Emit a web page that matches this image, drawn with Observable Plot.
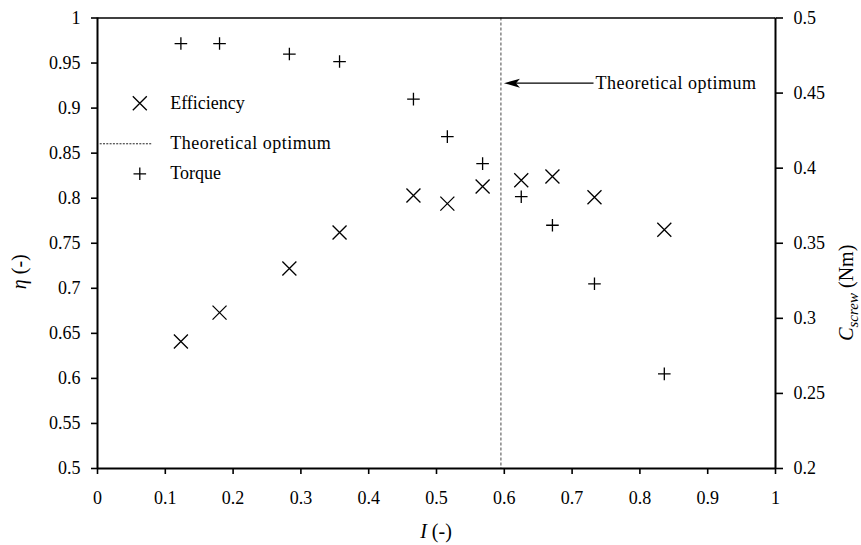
<!DOCTYPE html>
<html>
<head>
<meta charset="utf-8">
<script src="https://cdn.jsdelivr.net/npm/d3@7"></script>
<script src="https://cdn.jsdelivr.net/npm/@observablehq/plot@0.6"></script>
<style>
  html, body { margin: 0; padding: 0; background: #fff; }
  #chart svg { display: block; }
  #chart svg, #chart svg text, #chart svg tspan {
    font-family: "Liberation Serif", "DejaVu Serif", "Times New Roman", Times, serif !important;
  }
  #chart svg .wide text { letter-spacing: 0.5px; }
</style>
</head>
<body>
<div id="chart"></div>
<script>
// ---- data ----
const helixIndex = [0.123, 0.180, 0.283, 0.357, 0.466, 0.516, 0.568, 0.625, 0.671, 0.733, 0.836];
const efficiency = [0.641, 0.673, 0.722, 0.762, 0.803, 0.794, 0.813, 0.820, 0.824, 0.801, 0.765];
const torque     = [0.483, 0.483, 0.476, 0.471, 0.446, 0.421, 0.403, 0.381, 0.362, 0.323, 0.263];
const optimum = 0.595;

const xTicks      = [0, 0.1, 0.2, 0.3, 0.4, 0.5, 0.6, 0.7, 0.8, 0.9, 1];
const etaTicks    = [0.5, 0.55, 0.6, 0.65, 0.7, 0.75, 0.8, 0.85, 0.9, 0.95, 1];
const torqueTicks = [0.2, 0.25, 0.3, 0.35, 0.4, 0.45, 0.5];
const legendLabels = ["Efficiency", "Theoretical optimum", "Torque"];
const annotationText = "Theoretical optimum";

// ---- scales mapping ----
const etaDomain = [0.5, 1];
const torqueDomain = [0.2, 0.5];
const k = (etaDomain[1] - etaDomain[0]) / (torqueDomain[1] - torqueDomain[0]);
const toEta = t => etaDomain[0] + (t - torqueDomain[0]) * k;
const fromEta = e => torqueDomain[0] + (e - etaDomain[0]) / k;
const fmt = d3.format("~g");
const fmt2 = d => fmt(+d.toFixed(4));

const effData = helixIndex.map((I, i) => ({I, v: efficiency[i]}));
const torqueData = helixIndex.map((I, i) => ({I, v: toEta(torque[i])}));

// custom marker shapes
const timesSym = {draw(ctx) { const r = 7; ctx.moveTo(-r, -r); ctx.lineTo(r, r); ctx.moveTo(-r, r); ctx.lineTo(r, -r); }};
const plusSym  = {draw(ctx) { const r = 6.3; ctx.moveTo(-r, 0); ctx.lineTo(r, 0); ctx.moveTo(0, -r); ctx.lineTo(0, r); }};
const headSym  = {draw(ctx) { ctx.moveTo(0, 0); ctx.lineTo(16, -4.5); ctx.lineTo(12, 0); ctx.lineTo(16, 4.5); ctx.closePath(); }};

// annotation placement (data coordinates)
const arrowStart = 0.7316, arrowTip = 0.5995, arrowY = 0.9277, labelX = 0.7345;

const font = "Liberation Serif, DejaVu Serif, serif";

const plot = Plot.plot({
  width: 861,
  height: 545,
  marginLeft: 97,
  marginRight: 86,
  marginTop: 17.5,
  marginBottom: 77,
  style: {fontFamily: font, fontSize: "18px", color: "black", background: "white"},
  x: {domain: [0, 1]},
  y: {domain: etaDomain},
  marks: [
    // optimum line
    Plot.ruleX([optimum], {stroke: "#666", strokeWidth: 1.2, strokeDasharray: "3,2"}),
    // frame
    Plot.ruleY([etaDomain[1]], {stroke: "black", strokeWidth: 1.4}),
    Plot.ruleY([etaDomain[0]], {stroke: "black", strokeWidth: 2}),
    Plot.ruleX([0], {stroke: "black", strokeWidth: 2}),
    Plot.ruleX([1], {stroke: "black", strokeWidth: 2}),
    // axes
    Plot.axisX(xTicks, {tickSize: 6, tickPadding: 17, strokeWidth: 1.6, tickFormat: fmt2, label: null, fontSize: 18}),
    Plot.axisY(etaTicks, {anchor: "left", tickSize: 6, tickPadding: 11, strokeWidth: 1.6, tickFormat: fmt2, label: null, fontSize: 18}),
    Plot.axisY(torqueTicks.map(toEta), {anchor: "right", tickSize: 7, tickPadding: 11, strokeWidth: 1.6, tickFormat: d => fmt2(fromEta(d)), label: null, fontSize: 18}),
    // data
    Plot.dot(effData, {x: "I", y: "v", symbol: timesSym, r: 5, fill: "none", stroke: "black", strokeWidth: 1.3}),
    Plot.dot(torqueData, {x: "I", y: "v", symbol: plusSym, r: 5, fill: "none", stroke: "black", strokeWidth: 1.3}),
    // annotation
    Plot.link([{x1: arrowStart, x2: arrowTip + 0.012, y: arrowY}], {x1: "x1", x2: "x2", y1: "y", y2: "y", stroke: "black", strokeWidth: 1.2}),
    Plot.dot([{x: arrowTip, y: arrowY}], {x: "x", y: "y", symbol: headSym, r: 5, fill: "black", stroke: "none"}),
    Plot.text([annotationText], {x: labelX, y: arrowY, text: d => d, textAnchor: "start", lineAnchor: "middle", fontSize: 18, fill: "black", className: "wide"}),
    // legend
    Plot.dot([0], {frameAnchor: "top-left", dx: 42.3, dy: 85.2, symbol: timesSym, r: 5, fill: "none", stroke: "black", strokeWidth: 1.3}),
    Plot.ruleY([0.8604], {x1: 0.004, x2: 0.081, stroke: "#222", strokeWidth: 1, strokeDasharray: "2,1.3"}),
    Plot.dot([0], {frameAnchor: "top-left", dx: 42.3, dy: 155.8, symbol: plusSym, r: 5, fill: "none", stroke: "black", strokeWidth: 1.3}),
    Plot.text([legendLabels[0]], {frameAnchor: "top-left", dx: 72.7, dy: 84.8, text: d => d, textAnchor: "start", lineAnchor: "middle", fontSize: 18, fill: "black"}),
    Plot.text([legendLabels[1]], {frameAnchor: "top-left", dx: 72.7, dy: 125.3, text: d => d, textAnchor: "start", lineAnchor: "middle", fontSize: 18, fill: "black", className: "wide"}),
    Plot.text([legendLabels[2]], {frameAnchor: "top-left", dx: 72.7, dy: 155.3, text: d => d, textAnchor: "start", lineAnchor: "middle", fontSize: 18, fill: "black"})
  ]
});

document.getElementById("chart").appendChild(plot);

// axis titles with mixed italic styling
const sx = plot.scale("x"), sy = plot.scale("y");
const svg = d3.select(plot);
const xMid = sx.apply(0.5);
const yBottom = sy.apply(etaDomain[0]);
const yTop = sy.apply(etaDomain[1]);

const xt = svg.append("text")
  .attr("x", xMid).attr("y", yBottom + 70)
  .attr("text-anchor", "middle").attr("font-family", font).attr("font-size", 20).attr("fill", "black");
xt.append("tspan").attr("font-style", "italic").text("I");
xt.append("tspan").text(" (-)");

const ly = (yTop + yBottom) / 2 + 29;
const lt = svg.append("text")
  .attr("transform", `translate(26,${ly}) rotate(-90)`)
  .attr("text-anchor", "middle").attr("font-family", font).attr("font-size", 20).attr("fill", "black");
lt.append("tspan").attr("font-style", "italic").text("η");
lt.append("tspan").text(" (-)");

const ry = (yTop + yBottom) / 2 + 50;
const rt = svg.append("text")
  .attr("transform", `translate(853,${ry}) rotate(-90)`)
  .attr("text-anchor", "middle").attr("font-family", font).attr("font-size", 20).attr("fill", "black");
rt.append("tspan").attr("font-style", "italic").text("C");
rt.append("tspan").attr("font-style", "italic").attr("font-size", 15).attr("dy", 5).text("screw");
rt.append("tspan").attr("dy", -5).text(" (Nm)");
</script>
</body>
</html>
